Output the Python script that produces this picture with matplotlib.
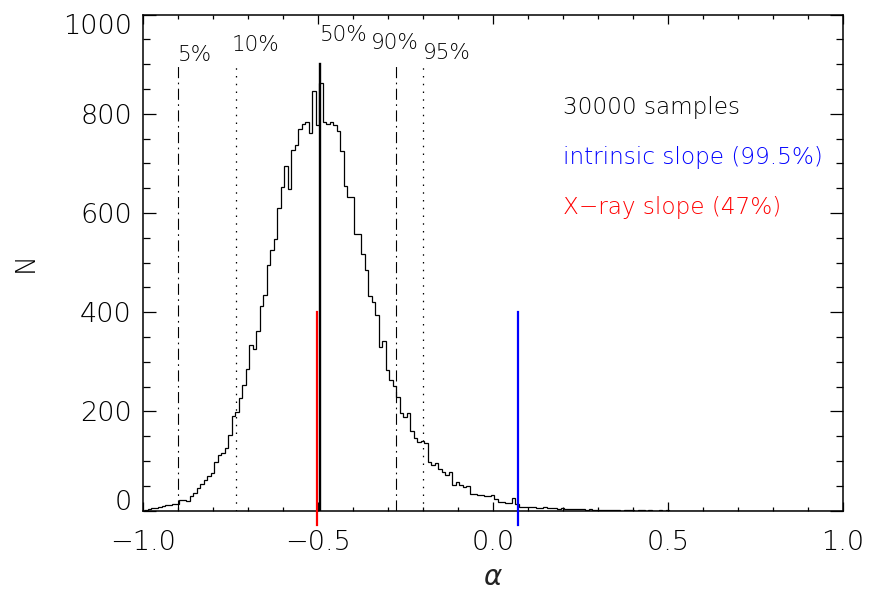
import numpy as np
import matplotlib
matplotlib.use('Agg')
import matplotlib.pyplot as plt
from matplotlib.ticker import MultipleLocator

plt.rcParams['font.family'] = ['DejaVu Sans']
plt.rcParams['font.weight'] = 'light'

# ---------------- data ----------------
counts = [
    2, 3, 5, 6, 7, 9, 11, 12, 13, 14,
    21, 22, 19, 29, 36, 46, 54, 61, 69, 75,
    98, 111, 115, 127, 152, 190, 199, 227, 254, 286,
    334, 325, 361, 413, 435, 495, 526, 548, 609, 652,
    695, 649, 727, 737, 769, 779, 783, 762, 845, 777,
    862, 784, 780, 783, 777, 765, 725, 654, 633, 632,
    558, 557, 518, 484, 433, 420, 394, 330, 341, 283,
    263, 251, 229, 196, 188, 196, 161, 147, 138, 140,
    137, 98, 92, 96, 84, 77, 72, 78, 52, 58,
    51, 48, 49, 34, 34, 32, 31, 29, 29, 31,
    24, 18, 18, 16, 16, 26, 14, 8, 8, 7,
    8, 7, 6, 6, 7, 5, 6, 5, 4, 5,
    4, 4, 3, 3, 4, 3, 2, 3, 2, 1,
    2, 1, 1, 2, 1, 1, 0, 2, 2, 1,
    0, 1, 1, 0, 1, 0, 0, 1, 0, 1,
    0, 0, 0, 0, 0, 0, 0, 0, 0, 0,
    0, 0, 0, 0, 0, 0, 0, 0, 0, 0,
    0, 0, 0, 0, 0, 0, 0, 0, 0, 0,
    0, 0, 0, 0, 0, 0, 0, 0, 0, 0,
    0, 0, 0, 0, 0, 0, 0, 0, 0, 0,
]
bin_start = -0.997
bin_width = 0.01

pct_labels = ['5%', '10%', '50%', '90%', '95%']
pct_values = [-0.899, -0.734, -0.494, -0.278, -0.199]
pct_line_top = 900

intrinsic_slope = 0.0705
xray_slope = -0.504
slope_line_range = (-30, 400)

n_samples = 30000
intrinsic_pct = 99.5
xray_pct = 47

xticks = [-1.0, -0.5, 0.0, 0.5, 1.0]
xtick_labels = ['\u22121.0', '\u22120.5', '0.0', '0.5', '1.0']
yticks = [0, 200, 400, 600, 800, 1000]
ytick_labels = ['0', '200', '400', '600', '800', '1000']

# ---------------- figure ----------------
W, H = 873, 592
fig = plt.figure(figsize=(W / 100, H / 100), dpi=100)
ax = fig.add_axes([143 / W, 1 - 510.5 / H, 700 / W, (510.5 - 14.5) / H])

edges = bin_start + bin_width * np.arange(len(counts) + 1)
ax.stairs(counts, edges, baseline=None, color='black', lw=0.9)

styles = [(0, (10, 4, 1.5, 4)), (0, (1.2, 5)), '-', (0, (10, 4, 1.5, 4)), (0, (1.2, 5))]
widths = [0.8, 0.9, 1.7, 0.8, 0.9]
for v, ls, lw in zip(pct_values, styles, widths):
    ax.plot([v, v], [0, pct_line_top], color='black', ls=ls, lw=lw)

ax.plot([xray_slope, xray_slope], slope_line_range, color='red', lw=1.6, clip_on=False, zorder=5)
ax.plot([intrinsic_slope, intrinsic_slope], slope_line_range, color='blue', lw=1.6, clip_on=False, zorder=5)

# percentile labels
label_dx = [0.0, -0.012, 0.0, -0.07, 0.0]
label_y = [906, 926, 946, 930, 910]
for lab, v, dx, y in zip(pct_labels, pct_values, label_dx, label_y):
    ax.text(v + dx, y, lab, ha='left', va='baseline', fontsize=15.5, color='black')

ax.text(0.2, 812, f'{n_samples} samples', fontsize=16.7, va='center', ha='left', color='black')
ax.text(0.2, 711, f'intrinsic slope ({intrinsic_pct}%)', fontsize=16.7, va='center', ha='left', color='blue')
ax.text(0.2, 611, f'X\u2212ray slope ({xray_pct}%)', fontsize=16.7, va='center', ha='left', color='red')

ax.set_xlim(-1.0, 1.0)
ax.set_ylim(0, 1000)
ax.set_xticks(xticks)
ax.set_xticklabels(xtick_labels)
ax.set_yticks(yticks)
ax.set_yticklabels(ytick_labels)
ax.xaxis.set_minor_locator(MultipleLocator(0.1))
ax.yaxis.set_minor_locator(MultipleLocator(50))

ax.tick_params(which='both', direction='in', top=True, right=True, color='black', width=0.9)
ax.tick_params(axis='x', which='major', length=6.5, pad=14, labelsize=19.5, labelcolor='black')
ax.tick_params(axis='x', which='minor', length=3)
ax.tick_params(axis='y', which='major', length=9.4, pad=8, labelsize=19.5, labelcolor='black')
ax.tick_params(axis='y', which='minor', length=5)
for s in ax.spines.values():
    s.set_linewidth(1.1)

ylabs = ax.get_yticklabels()
ylabs[0].set_va('baseline')
ylabs[-1].set_va('top')

fig.text(493 / W, 1 - 585 / H, r'$\alpha$', fontsize=20, ha='center', va='baseline', color='#222222')
fig.text(25 / W, 1 - 262 / H, 'N', fontsize=19, rotation=90, ha='center', va='center', color='black')

fig.savefig('out.png', dpi=100)
